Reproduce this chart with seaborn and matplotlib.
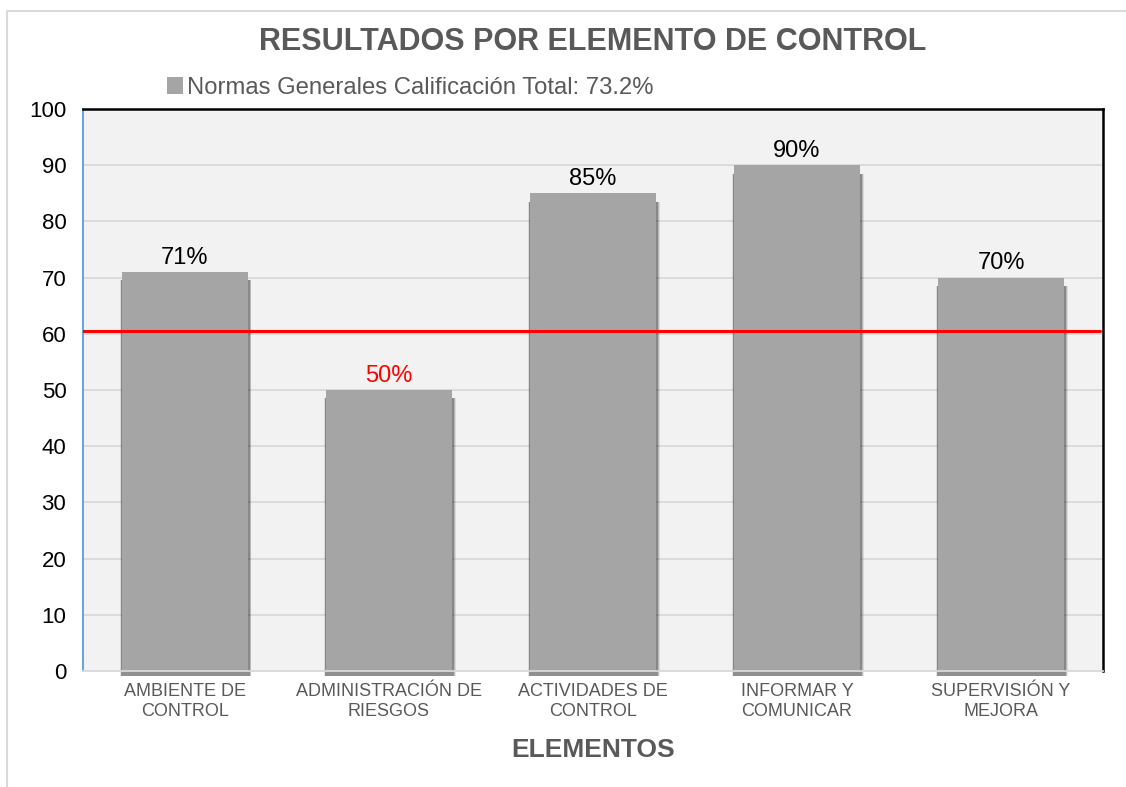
import numpy as np
import matplotlib
matplotlib.use('Agg')
from matplotlib import pyplot as plt
from matplotlib import font_manager
from matplotlib.patches import Patch
from matplotlib.lines import Line2D
import seaborn as sns

# data
categorias = ['AMBIENTE DE\nCONTROL', 'ADMINISTRACIÓN DE\nRIESGOS', 'ACTIVIDADES DE\nCONTROL',
              'INFORMAR Y\nCOMUNICAR', 'SUPERVISIÓN Y\nMEJORA']
valores = [71, 50, 85, 90, 70]
etiquetas = ['71%', '50%', '85%', '90%', '70%']
umbral = 60.5
leyenda = 'Normas Generales Calificación Total: 73.2%'
titulo = 'RESULTADOS POR ELEMENTO DE CONTROL'
eje_x = 'ELEMENTOS'
y_ticks = [0, 10, 20, 30, 40, 50, 60, 70, 80, 90, 100]

sns.set_theme(style='white')
plt.rcParams['font.family'] = ['Liberation Sans', 'DejaVu Sans']

nombres = {f.name for f in font_manager.fontManager.ttflist}
if 'Liberation Sans Narrow' in nombres:
    fam_titulo, size_titulo = ['Liberation Sans Narrow', 'Liberation Sans'], 26
else:
    fam_titulo, size_titulo = ['Liberation Sans', 'DejaVu Sans'], 22

fig = plt.figure(figsize=(11.26, 7.87), dpi=100)
ax = fig.add_axes([0.0737, 0.1474, 0.9059, 0.7141])
ax.set_facecolor('#f2f2f2')

x = np.arange(len(valores))
ancho = 0.62

# soft shadow behind bars
for extra, alpha in [(0.026, 0.10), (0.018, 0.18), (0.01, 0.30)]:
    ax.bar(x + 0.003, np.array(valores) - 1.5 + 0.9, bottom=-0.9, width=ancho + extra,
           color='#1a1a1a', alpha=alpha, zorder=2, linewidth=0, clip_on=False)

sns.barplot(x=x, y=valores, color='#a5a5a5', width=ancho, saturation=1,
            ax=ax, zorder=3, native_scale=True, linewidth=0, edgecolor='none')

for xi, v, t in zip(x, valores, etiquetas):
    ax.text(xi, v + 0.6, t, ha='center', va='bottom', fontsize=17,
            color='red' if v < umbral else 'black', zorder=5)

ax.axhline(umbral, xmin=0, xmax=0.997, color='#ff0000', lw=2.2, zorder=4)

ax.set_xlim(-0.5, len(valores) - 0.5)
ax.set_ylim(0, 100)
ax.set_yticks(y_ticks)
ax.set_xticks(x)
ax.set_xticklabels(categorias, fontsize=13, color='#595959', linespacing=1.2)
ax.tick_params(axis='x', length=0, pad=9)
ax.tick_params(axis='y', length=7, width=1.3, color='#5b9bd5', direction='out',
               labelsize=16, labelcolor='black', pad=5)
ax.yaxis.grid(True, color='#d9d9d9', lw=1.3, zorder=0)
ax.set_axisbelow(True)

ax.spines['left'].set_color('#5b9bd5')
ax.spines['left'].set_linewidth(1.3)
ax.spines['top'].set_color('black')
ax.spines['top'].set_linewidth(1.8)
ax.spines['right'].set_color('black')
ax.spines['right'].set_linewidth(1.8)
ax.spines['bottom'].set_color('#d9d9d9')
ax.spines['bottom'].set_linewidth(1.3)
ax.spines['bottom'].set_zorder(4)

ax.set_xlabel(eje_x, fontsize=19, fontweight='bold', color='#595959', labelpad=13)
ax.set_ylabel('')

fig.text(0.5265, 0.947, titulo, ha='center', va='center', fontsize=size_titulo,
         fontweight='bold', color='#595959', family=fam_titulo)

fig.legend(handles=[Patch(facecolor='#a5a5a5', edgecolor='none', label=leyenda)],
           loc='center left', bbox_to_anchor=(0.148, 0.888), frameon=False,
           fontsize=17.2, handlelength=0.7, handleheight=0.7, handletextpad=0.15,
           borderpad=0, borderaxespad=0, labelcolor='#595959')

# outer chart border (top and left)
fig.add_artist(Line2D([0.0062, 1.0], [0.986, 0.986], color='#d9d9d9', lw=1.5,
                      transform=fig.transFigure))
fig.add_artist(Line2D([0.0062, 0.0062], [0.0, 0.986], color='#d9d9d9', lw=1.5,
                      transform=fig.transFigure))

fig.savefig('out.png', dpi=100)
